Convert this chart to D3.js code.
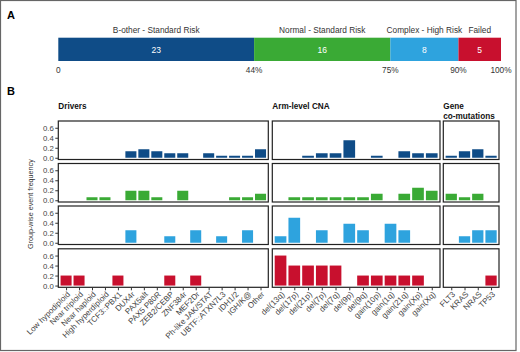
<!DOCTYPE html>
<html>
<head>
<meta charset="utf-8">
<script src="https://cdn.jsdelivr.net/npm/d3@7"></script>
<style>
  body { margin: 0; background: #fff; }
  svg { font-family: "Liberation Sans", Arial, sans-serif; }
</style>
</head>
<body>
<div id="chart"></div>
<script>
// Panel A
const groups = ['B-other - Standard Risk', 'Normal - Standard Risk', 'Complex - High Risk', 'Failed'];
const groupCounts = [23, 16, 8, 5];
const pctLabels = ['0', '44%', '75%', '90%', '100%'];
const COLORS = ['#0f4c87', '#3aaa35', '#2ea3de', '#c8102e'];

// Panel B categories
const drivers = ['Low hypodiploid', 'Near triploid', 'Near haploid', 'High hyperdiploid', 'TCF3::PBX1',
  'DUX4r', 'PAX5alt', 'PAX5 P80R', 'ZEB2/CEBP', 'ZNF384r', 'MEF2Dr', 'Ph-like JAK/STAT',
  'UBTF::ATXN7L3', 'IDH1/2', 'IGH/K@', 'Other'];
const arms = ['del(13q)', 'del(17p)', 'del(21p)', 'del(7p)', 'del(7q)', 'del(9p)', 'del(9q)',
  'gain(10p)', 'gain(1q)', 'gain(21q)', 'gain(Xp)', 'gain(Xq)'];
const genes = ['FLT3', 'KRAS', 'NRAS', 'TP53'];
const yTicks = [0, 0.2, 0.4, 0.6];

// frequencies per group (rows: B-other, Normal, Complex, Failed)
const driversBother  = [0, 0, 0, 0, 0, 0.13, 0.17, 0.13, 0.09, 0.09, 0, 0.09, 0.04, 0.04, 0.04, 0.17];
const driversNormal  = [0, 0, 0.06, 0.06, 0, 0.19, 0.19, 0.06, 0, 0.19, 0, 0, 0, 0.06, 0.06, 0.13];
const driversComplex = [0, 0, 0, 0, 0, 0.25, 0, 0, 0.13, 0, 0.25, 0, 0.13, 0, 0.25, 0];
const driversFailed  = [0.2, 0.2, 0, 0, 0.2, 0, 0, 0, 0.2, 0, 0.2, 0, 0, 0, 0, 0];

const armsBother  = [0, 0, 0.04, 0.09, 0.09, 0.35, 0, 0.04, 0, 0.13, 0.09, 0.09];
const armsNormal  = [0, 0.06, 0.06, 0.06, 0.06, 0.06, 0.06, 0.13, 0, 0.13, 0.25, 0.19];
const armsComplex = [0.13, 0.5, 0, 0.25, 0, 0.38, 0.25, 0, 0.38, 0.25, 0, 0];
const armsFailed  = [0.6, 0.4, 0.4, 0.4, 0.4, 0, 0.2, 0.2, 0.2, 0.2, 0.2, 0];

const genesBother  = [0.04, 0.13, 0.17, 0.04];
const genesNormal  = [0.13, 0.06, 0.13, 0];
const genesComplex = [0, 0.13, 0.25, 0.25];
const genesFailed  = [0, 0, 0, 0.2];

const W = 520, H = 352;
const svg = d3.select('#chart').append('svg').attr('width', W).attr('height', H);

// outer frame
svg.append('rect').attr('x', 0.5).attr('y', 0.5).attr('width', 515.5).attr('height', 350)
  .attr('fill', 'none').attr('stroke', '#666').attr('stroke-width', 1.2);

// ---------- A ----------
svg.append('text').attr('x', 7).attr('y', 19).attr('font-size', 11).attr('font-weight', 'bold').text('A');

const total = d3.sum(groupCounts);
const cum = [0];
groupCounts.forEach(c => cum.push(cum[cum.length - 1] + c));
const xa = d3.scaleLinear().domain([0, total]).range([58.3, 501]);

const segs = groups.map((g, i) => ({ g, n: groupCounts[i], x0: cum[i], x1: cum[i + 1], color: COLORS[i] }));

svg.selectAll('.seg').data(segs).join('rect')
  .attr('x', d => xa(d.x0)).attr('width', d => xa(d.x1) - xa(d.x0))
  .attr('y', 37.7).attr('height', 23.3).attr('fill', d => d.color);

svg.selectAll('.segn').data(segs).join('text')
  .attr('x', d => xa((d.x0 + d.x1) / 2)).attr('y', 52.8)
  .attr('text-anchor', 'middle').attr('font-size', 8.5).attr('fill', '#fff')
  .text(d => d.n);

svg.selectAll('.segl').data(segs).join('text')
  .attr('x', d => xa((d.x0 + d.x1) / 2)).attr('y', 32.5)
  .attr('text-anchor', 'middle').attr('font-size', 8.3).attr('fill', '#333')
  .text(d => d.g);

svg.selectAll('.pct').data(pctLabels).join('text')
  .attr('x', (d, i) => xa(cum[i])).attr('y', 73.3)
  .attr('text-anchor', 'middle').attr('font-size', 8.3).attr('fill', '#333')
  .text(d => d);

// ---------- B ----------
svg.append('text').attr('x', 7).attr('y', 95).attr('font-size', 11).attr('font-weight', 'bold').text('B');

const cols = [
  { title: ['Drivers'], cats: drivers, x0: 58.3, x1: 268.3, rows: [driversBother, driversNormal, driversComplex, driversFailed] },
  { title: ['Arm-level CNA'], cats: arms, x0: 272.3, x1: 440, rows: [armsBother, armsNormal, armsComplex, armsFailed] },
  { title: ['Gene', 'co-mutations'], cats: genes, x0: 443.3, x1: 499, rows: [genesBother, genesNormal, genesComplex, genesFailed] },
];
const rowTops = [121, 163.5, 206, 248.8];
const ph = 38.5;

cols.forEach((col, ci) => {
  const x = d3.scalePoint().domain(col.cats).range([col.x0, col.x1]).padding(0.6);
  const bw = x.step() * 0.85;

  col.title.forEach((t, k) => {
    svg.append('text').attr('x', col.x0).attr('y', 109.3 + k * 10)
      .attr('font-size', 8.2).attr('font-weight', 'bold').attr('fill', '#111').text(t);
  });

  rowTops.forEach((top, ri) => {
    const y = d3.scaleLinear().domain([-0.035, 0.735]).range([top + ph, top]);
    const vals = col.rows[ri].map((v, i) => ({ cat: col.cats[i], v }));
    const g = svg.append('g');

    g.selectAll('rect.bar').data(vals.filter(d => d.v > 0)).join('rect')
      .attr('class', 'bar')
      .attr('x', d => x(d.cat) - bw / 2).attr('width', bw)
      .attr('y', d => y(d.v)).attr('height', d => y(0) - y(d.v))
      .attr('fill', COLORS[ri]);

    g.append('rect').attr('x', col.x0).attr('y', top).attr('width', col.x1 - col.x0).attr('height', ph)
      .attr('fill', 'none').attr('stroke', '#222').attr('stroke-width', 1.2);

    if (ci === 0) {
      const ax = svg.append('g').attr('transform', `translate(${col.x0},0)`)
        .call(d3.axisLeft(y).tickValues(yTicks).tickFormat(d3.format('.1f')).tickSize(3).tickPadding(1.5));
      ax.select('.domain').remove();
      ax.selectAll('.tick line').attr('stroke', '#333');
      ax.selectAll('.tick text').attr('font-size', 7.8).attr('fill', '#444')
        .attr('font-family', '"Liberation Sans", Arial, sans-serif');
    }

    if (ri === rowTops.length - 1) {
      const ax = svg.append('g').attr('transform', `translate(0,${top + ph})`)
        .call(d3.axisBottom(x).tickSize(3).tickFormat(''));
      ax.select('.domain').remove();
      ax.selectAll('.tick line').attr('stroke', '#333');
      svg.append('g').selectAll('text').data(col.cats).join('text')
        .attr('transform', d => `translate(${x(d) + 2.5},${top + ph + 5.5}) rotate(-45)`)
        .attr('text-anchor', 'end').attr('font-size', 8).attr('fill', '#444')
        .attr('dy', '0.35em')
        .text(d => d);
    }
  });
});

svg.append('text')
  .attr('transform', `translate(33,${(rowTops[0] + rowTops[3] + ph) / 2}) rotate(-90)`)
  .attr('text-anchor', 'middle').attr('font-size', 7.2).attr('fill', '#333')
  .text('Group-wise event frequency');
</script>
</body>
</html>
